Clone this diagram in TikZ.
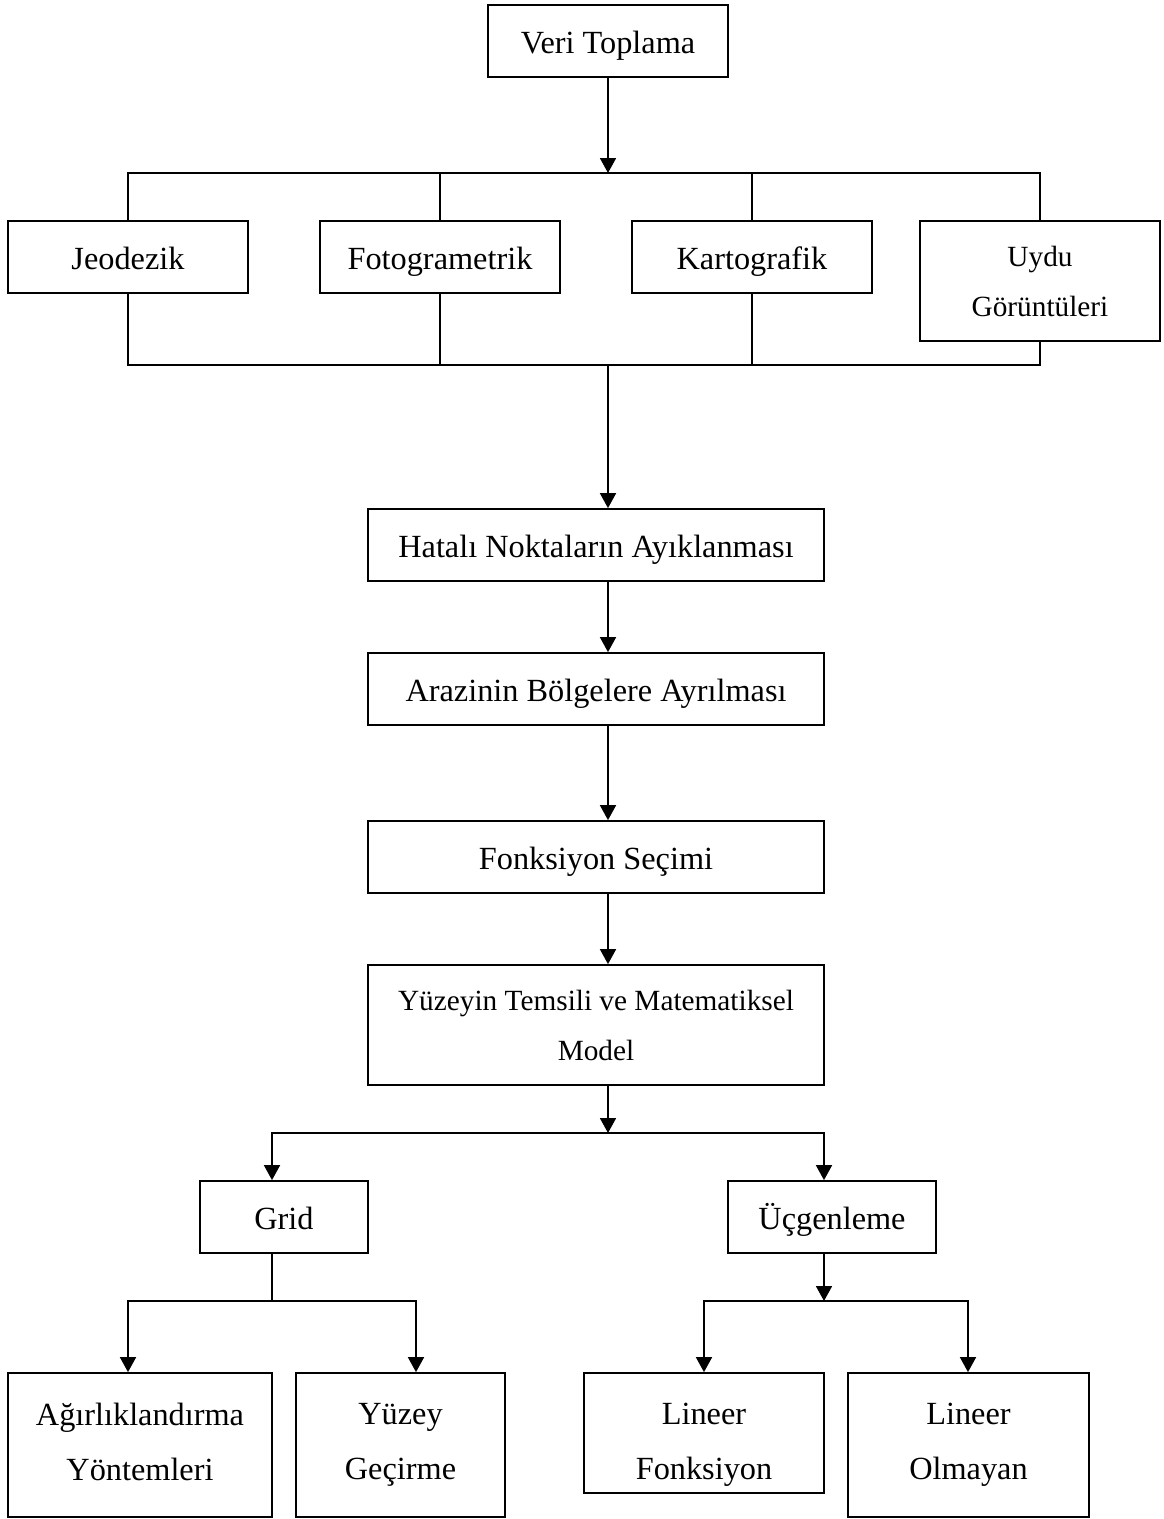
\documentclass[tikz,border=0pt]{standalone}
\usepackage{fontspec}
\setmainfont{Liberation Serif}
\usetikzlibrary{arrows.meta,positioning}

\begin{document}
\begin{tikzpicture}[
  x=1pt, y=-1pt,
  box/.style={rectangle, draw, line width=1.8pt, inner sep=0pt, align=center, font=\fontsize{32.3}{55}\selectfont},
  one/.style={box, text height=31pt, text depth=7pt},
  sbox/.style={box, font=\fontsize{29.3}{50}\selectfont},
  arr/.style={-{Triangle[length=15pt,width=16pt]}, line width=1.8pt},
  ln/.style={line width=1.8pt}
]
\useasboundingbox (0,0) rectangle (1163,1519);
\node[one, minimum width=240pt, minimum height=72pt] (veri) at (608,41) {Veri Toplama};
\node[one, minimum width=240pt, minimum height=72pt] (jeo) at (128,257) {Jeodezik};
\node[one, minimum width=240pt, minimum height=72pt] (foto) at (440,257) {Fotogrametrik};
\node[one, minimum width=240pt, minimum height=72pt] (karto) at (752,257) {Kartografik};
\node[sbox, minimum width=240pt, minimum height=120pt] (uydu) at (1040,281) {Uydu\\Görüntüleri};
\node[one, minimum width=456pt, minimum height=72pt] (hatali) at (596,545) {Hatalı Noktaların Ayıklanması};
\node[one, minimum width=456pt, minimum height=72pt] (arazi) at (596,689) {Arazinin Bölgelere Ayrılması};
\node[one, minimum width=456pt, minimum height=72pt] (fonk) at (596,857) {Fonksiyon Seçimi};
\node[sbox, minimum width=456pt, minimum height=120pt] (yuzeyin) at (596,1025) {Yüzeyin Temsili ve Matematiksel\\Model};
\node[one, minimum width=168pt, minimum height=72pt] (grid) at (284,1217) {Grid};
\node[one, minimum width=208pt, minimum height=72pt] (ucgen) at (832,1217) {Üçgenleme};
\node[box, minimum width=264pt, minimum height=144pt, text depth=7pt] (agir) at (140,1445) {Ağırlıklandırma\\Yöntemleri};
\node[box, minimum width=209pt, minimum height=144pt] (yuzey) at (400.5,1445) {Yüzey\\Geçirme};
\node[box, minimum width=240pt, minimum height=120pt, text height=100pt] (lfonk) at (704,1433) {Lineer\\Fonksiyon};
\node[box, minimum width=241pt, minimum height=144pt] (lolm) at (968.5,1445) {Lineer\\Olmayan};

\coordinate (top) at (608,173);
\coordinate (bot) at (608,365);
\coordinate (split) at (608,1133);
\coordinate (gsplit) at (272,1301);
\coordinate (usplit) at (824,1301);

\draw[arr] (veri) -- (top);
\draw[ln] (jeo.north) |- (top) -| (uydu.north);
\draw[ln] (foto.north) -- (foto.north |- top);
\draw[ln] (karto.north) -- (karto.north |- top);
\draw[ln] (jeo.south) |- (bot) -| (uydu.south);
\draw[ln] (foto.south) -- (foto.south |- bot);
\draw[ln] (karto.south) -- (karto.south |- bot);
\draw[arr] (bot) -- (bot |- hatali.north);
\draw[arr] (hatali.south -| veri) -- (arazi.north -| veri);
\draw[arr] (arazi.south -| veri) -- (fonk.north -| veri);
\draw[arr] (fonk.south -| veri) -- (yuzeyin.north -| veri);
\draw[arr] (yuzeyin.south -| veri) -- (split);
\draw[arr] (split) -| ([xshift=-12pt]grid.north);
\draw[arr] (split) -| ([xshift=-8pt]ucgen.north);
\draw[ln] ([xshift=-12pt]grid.south) -- (gsplit);
\draw[arr] (gsplit) -| ([xshift=-12pt]agir.north);
\draw[arr] (gsplit) -| ([xshift=15.5pt]yuzey.north);
\draw[arr] ([xshift=-8pt]ucgen.south) -- (usplit);
\draw[arr] (usplit) -| (lfonk.north);
\draw[arr] (usplit) -| ([xshift=-0.5pt]lolm.north);
\end{tikzpicture}
\end{document}
